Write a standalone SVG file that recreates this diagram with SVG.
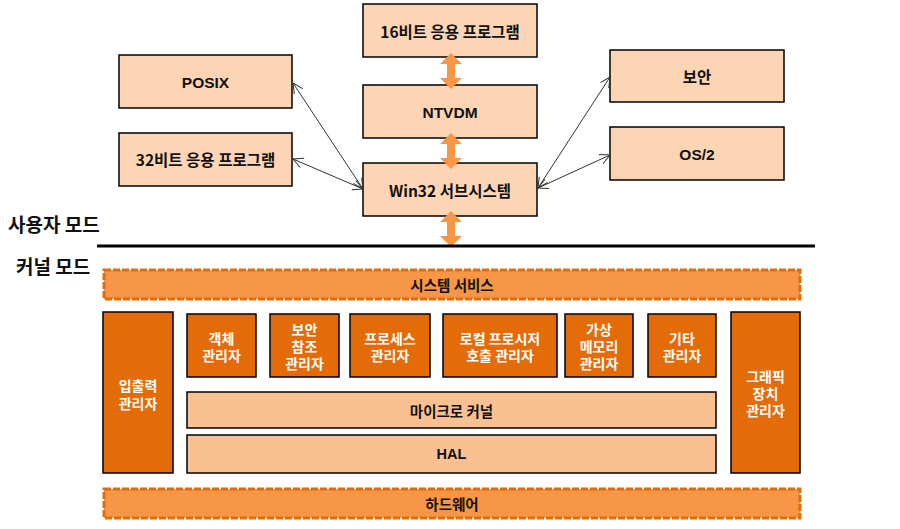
<svg xmlns="http://www.w3.org/2000/svg" width="900" height="529" viewBox="0 0 900 529">
<style>
text{font-family:"Liberation Sans","Noto Sans CJK KR",sans-serif;font-weight:bold;text-anchor:middle;dominant-baseline:central}
.kr{font-family:"Noto Sans CJK KR",sans-serif}
.top{fill:#FCD5B5;stroke:#000;stroke-width:1.5}
.t15{font-size:15.5px;fill:#111}
.t14{font-size:14.5px;fill:#111}
.mgr{fill:#E36C09;stroke:#000;stroke-width:1.5}
.w{font-size:14px;fill:#fff}
.lite{fill:#F9C191;stroke:#000;stroke-width:1.5}
.dash{fill:#F79646;stroke:#E36C09;stroke-width:3;stroke-dasharray:7 2}
.dashbg{fill:none;stroke:#fff;stroke-width:3}
.blk{fill:#F79646}
.thin{fill:none;stroke:#333;stroke-width:1;marker-start:url(#ah);marker-end:url(#ah)}
.mode{font-size:19px;fill:#111;text-anchor:start}
</style>
<defs>
<marker id="ah" viewBox="0 0 12 12" refX="11" refY="6" markerWidth="12" markerHeight="12" markerUnits="userSpaceOnUse" orient="auto-start-reverse">
<path d="M1,1 L11,6 L1,11" fill="none" stroke="#333" stroke-width="1"/>
</marker>
</defs>
<rect width="900" height="529" fill="#fff"/>

<g id="posix"><rect class="top" x="119" y="55" width="173" height="53"/><text class="t15" x="205.5" y="82">POSIX</text></g>
<g id="app32"><rect class="top" x="119" y="133" width="173" height="53"/><text class="t15 kr" x="205.5" y="159">32비트 응용 프로그램</text></g>
<g id="app16"><rect class="top" x="363" y="4" width="174" height="53"/><text class="t15 kr" x="450" y="31">16비트 응용 프로그램</text></g>
<g id="ntvdm"><rect class="top" x="363" y="85" width="174" height="53"/><text class="t15" x="450" y="112">NTVDM</text></g>
<g id="win32"><rect class="top" x="363" y="163" width="174" height="53"/><text class="t15 kr" x="450" y="190">Win32 서브시스템</text></g>
<g id="security"><rect class="top" x="610" y="50" width="174" height="52"/><text class="t15 kr" x="697" y="76">보안</text></g>
<g id="os2"><rect class="top" x="610" y="127" width="174" height="53"/><text class="t15" x="697" y="154">OS/2</text></g>

<g id="connectors">
<line class="thin" x1="293" y1="83" x2="363" y2="189"/>
<line class="thin" x1="293" y1="159" x2="363" y2="189"/>
<line class="thin" x1="538" y1="188" x2="610" y2="77"/>
<line class="thin" x1="538" y1="188" x2="610" y2="155"/>
<polygon class="blk" points="451,53 462,64 455,64 455,78 462,78 451,89 440,78 447,78 447,64 440,64"/>
<polygon class="blk" points="451,133 462,144 455,144 455,158 462,158 451,169 440,158 447,158 447,144 440,144"/>
<polygon class="blk" points="451,211 462,222 455,222 455,236 462,236 451,247 440,236 447,236 447,222 440,222"/>
</g>

<g id="divider">
<line x1="97" y1="246" x2="815" y2="246" stroke="#000" stroke-width="3"/>
<text class="mode kr" x="8" y="223">사용자 모드</text>
<text class="mode kr" x="16" y="265">커널 모드</text>
</g>

<g id="sysservices"><rect class="dashbg" x="104" y="270" width="696" height="29"/><rect class="dash" x="104" y="270" width="696" height="29"/><text class="t14 kr" x="452" y="284.5">시스템 서비스</text></g>

<g id="io"><rect class="mgr" x="103" y="312" width="70" height="161"/><text class="w kr" x="138" y="385">입출력<tspan x="138" dy="18">관리자</tspan></text></g>
<g id="obj"><rect class="mgr" x="187" y="314" width="69" height="63"/><text class="w kr" x="221.5" y="338">객체<tspan x="221.5" dy="17">관리자</tspan></text></g>
<g id="srm"><rect class="mgr" x="270" y="314" width="69" height="63"/><text class="w kr" x="304.5" y="329">보안<tspan x="304.5" dy="17">참조</tspan><tspan x="304.5" dy="17">관리자</tspan></text></g>
<g id="proc"><rect class="mgr" x="350" y="314" width="80" height="63"/><text class="w kr" x="390" y="338">프로세스<tspan x="390" dy="17">관리자</tspan></text></g>
<g id="lpc"><rect class="mgr" x="443" y="314" width="114" height="63"/><text class="w kr" x="500" y="338">로컬 프로시저<tspan x="500" dy="17">호출 관리자</tspan></text></g>
<g id="vm"><rect class="mgr" x="565" y="314" width="68" height="63"/><text class="w kr" x="599" y="329">가상<tspan x="599" dy="17">메모리</tspan><tspan x="599" dy="17">관리자</tspan></text></g>
<g id="etc"><rect class="mgr" x="648" y="314" width="68" height="63"/><text class="w kr" x="682" y="338">기타<tspan x="682" dy="17">관리자</tspan></text></g>
<g id="gdi"><rect class="mgr" x="731" y="312" width="69" height="161"/><text class="w kr" x="765.5" y="376">그래픽<tspan x="765.5" dy="17">장치</tspan><tspan x="765.5" dy="17">관리자</tspan></text></g>
<g id="microkernel"><rect class="lite" x="187" y="392" width="529" height="36"/><text class="t14 kr" x="451.5" y="410">마이크로 커널</text></g>
<g id="hal"><rect class="lite" x="187" y="435" width="529" height="38"/><text class="t14" x="451.5" y="454">HAL</text></g>
<g id="hardware"><rect class="dashbg" x="104" y="489" width="696" height="29"/><rect class="dash" x="104" y="489" width="696" height="29"/><text class="t14 kr" x="452" y="503.5">하드웨어</text></g>
</svg>
